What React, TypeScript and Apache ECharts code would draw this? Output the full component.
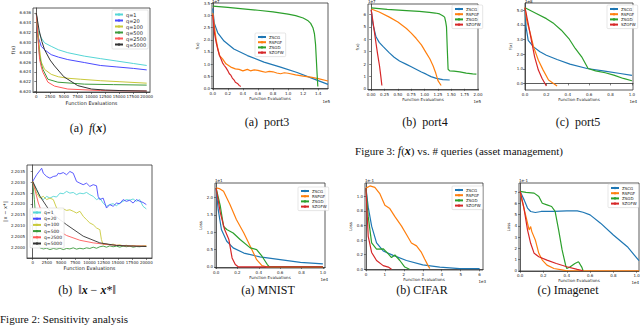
import React, { useEffect, useRef } from "react";
import * as echarts from "echarts";

type P = [number, number][];

// ---------- names & colours ----------
const qNames = ["q=1", "q=20", "q=100", "q=500", "q=2500", "q=5000"];
const qColors = ["#55d6d6", "#4a4aff", "#c9c93a", "#3c9a3c", "#ff5a5a", "#333333"];
const algNames = ["ZSCG", "RSPGF", "ZSGD", "SZOFW"];
const algColors = ["#1f77b4", "#ff7f0e", "#2ca02c", "#d62728"];

// ---------- Fig 2(a) f(x) ----------
const fxXTicks = [0, 2500, 5000, 7500, 10000, 12500, 15000, 17500, 20000];
const fxYTicks = [6.62, 6.622, 6.624, 6.626, 6.628, 6.63, 6.632, 6.634, 6.636];
const fxQ1: P = [[0,6.636],[300,6.6325],[900,6.6309],[1500,6.6299],[2700,6.6292],[4000,6.6285],[5700,6.6279],[8700,6.6272],[11600,6.6267],[14600,6.6262],[17600,6.6257],[20000,6.6253]];
const fxQ20: P = [[0,6.636],[300,6.6312],[900,6.6292],[1500,6.6285],[2700,6.6275],[4000,6.627],[5700,6.6265],[8700,6.6259],[11600,6.6253],[14600,6.625],[17600,6.6247],[20000,6.6244]];
const fxQ100: P = [[0,6.636],[300,6.632],[600,6.6285],[900,6.626],[1500,6.6245],[2700,6.6235],[4000,6.623],[5700,6.6227],[8000,6.6225],[11600,6.6222],[15000,6.622],[20000,6.6217]];
const fxQ500: P = [[0,6.636],[300,6.631],[600,6.6272],[900,6.6256],[1200,6.6245],[2100,6.6225],[3900,6.6219],[8700,6.6215],[14000,6.6214],[20000,6.6213]];
const fxQ2500: P = [[0,6.636],[300,6.631],[600,6.6265],[900,6.625],[1200,6.6239],[2100,6.6219],[3300,6.6211],[5700,6.6205],[11600,6.6202],[20000,6.6201]];
const fxQ5000: P = [[0,6.636],[500,6.6325],[1000,6.6302],[1500,6.6285],[2500,6.6264],[3300,6.6252],[5000,6.623],[7500,6.6212],[10000,6.6205],[12500,6.6203],[15000,6.6202],[20000,6.6201]];

// ---------- Fig 2(b) ||x - x*|| ----------
const dxYTicks = [2.2, 2.2005, 2.201, 2.2015, 2.202, 2.2025, 2.203, 2.2035];
const dxQ1: P = [[0,2.20304],[700,2.20266],[1290,2.20235],[1870,2.2022],[2460,2.20235],[3040,2.20227],[3630,2.20235],[4210,2.20232],[4800,2.2025],[5380,2.20247],[5970,2.20258],[6550,2.2025],[7140,2.20253],[7720,2.20243],[8310,2.2025],[8890,2.20247],[9480,2.20253],[10060,2.20243],[10650,2.20235],[11230,2.2022],[11820,2.20227],[12400,2.20204],[12990,2.20189],[13570,2.20197],[14160,2.20201],[14740,2.20192],[15330,2.20204],[15910,2.20212],[16500,2.2022],[17080,2.20217],[17670,2.20223],[18250,2.20212],[18840,2.2022],[19420,2.20189],[20000,2.20177]];
const dxQ20: P = [[0,2.20304],[700,2.20335],[1580,2.20365],[1870,2.20342],[2460,2.20327],[3040,2.20319],[3630,2.20327],[4210,2.2033],[4500,2.20342],[4800,2.20339],[5380,2.20345],[5970,2.20335],[6550,2.2035],[7140,2.20342],[7720,2.20304],[8310,2.20296],[8890,2.20289],[9480,2.20296],[10060,2.20281],[10650,2.20289],[11230,2.20284],[11520,2.20235],[11820,2.2022],[12400,2.20227],[12700,2.20204],[12990,2.20181],[13570,2.20197],[14160,2.20189],[14740,2.20204],[15330,2.20201],[15910,2.2022],[16500,2.20212],[17080,2.20217],[17670,2.20204],[18250,2.2022],[18840,2.20212],[19420,2.20207],[20000,2.20197]];
const dxQ100: P = [[0,2.20304],[700,2.2025],[1290,2.20227],[1870,2.20235],[2460,2.2022],[3040,2.20227],[3630,2.2022],[4210,2.20181],[4800,2.20173],[5380,2.20177],[5970,2.2017],[6550,2.20173],[7140,2.20166],[7720,2.20158],[8310,2.20166],[8890,2.20143],[9480,2.20127],[10060,2.20112],[10650,2.20104],[11230,2.20089],[11820,2.20081],[12100,2.20035],[12400,2.20012],[12990,2.20015],[13570,2.20011],[14160,2.20014],[14740,2.20008],[15330,2.20011],[15910,2.20006],[16500,2.20009],[17080,2.20005],[17670,2.20008],[18250,2.20005],[18840,2.20006],[19420,2.20005],[20000,2.20008]];
const dxQ500: P = [[0,2.20304],[300,2.2022],[500,2.20143],[700,2.20051],[1000,2.20012],[1290,2.19997],[1870,2.19992],[2460,2.19995],[3040,2.19989],[3630,2.19994],[4210,2.19991],[4800,2.19995],[5380,2.19989],[5970,2.19994],[6550,2.19992],[7140,2.19997],[7720,2.19991],[8310,2.19995],[8890,2.19992],[9480,2.19997],[10060,2.19994],[10650,2.2],[11230,2.19995],[11820,2.20002],[12400,2.20005],[12990,2.2],[13570,2.20006],[14160,2.20002],[14740,2.20005],[15330,2.2],[15910,2.20005],[16500,2.20002],[17080,2.20005],[17670,2.2],[18250,2.20003],[18840,2.20002],[19420,2.20005],[20000,2.20003]];
const dxQ2500: P = [[0,2.20304],[400,2.20265],[1000,2.20204],[1870,2.20143],[2460,2.20122],[3040,2.20104],[4210,2.20081],[5970,2.20054],[8310,2.20032],[10650,2.2002],[13570,2.20011],[16500,2.20006],[20000,2.20005]];
const dxQ5000: P = [[0,2.20304],[700,2.20266],[1290,2.20235],[3040,2.20166],[4800,2.20127],[5970,2.20104],[8890,2.20051],[11820,2.2002],[14740,2.20008],[17670,2.20005],[20000,2.20003]];

// ---------- Fig 3 port3 ----------
const p3XTicks = [0, 0.2, 0.4, 0.6, 0.8, 1.0, 1.2, 1.4];
const p3YTicks = [0, 0.5, 1.0, 1.5, 2.0, 2.5, 3.0, 3.5];
const p3A: P = [[0,3.3],[0.02,2.69],[0.066,2.29],[0.15,1.95],[0.28,1.62],[0.46,1.35],[0.68,1.08],[0.9,0.875],[1.12,0.65],[1.33,0.4],[1.53,0.16]];
const p3B: P = [[0,3.1],[0.02,2.6],[0.044,2.02],[0.07,1.6],[0.09,1.35],[0.13,1.21],[0.175,1.01],[0.24,0.875],[0.3,0.8],[0.35,0.78],[0.4,0.72],[0.46,0.78],[0.5,0.72],[0.55,0.76],[0.6,0.74],[0.65,0.7],[0.7,0.66],[0.75,0.7],[0.8,0.68],[0.85,0.63],[0.9,0.6],[0.95,0.64],[1.0,0.62],[1.1,0.55],[1.2,0.5],[1.3,0.46],[1.4,0.4],[1.53,0.3]];
const p3C: P = [[0,3.39],[0.2,3.34],[0.4,3.28],[0.6,3.22],[0.8,3.15],[1.0,3.06],[1.1,3.0],[1.2,2.9],[1.26,2.8],[1.3,2.68],[1.33,2.5],[1.35,2.25],[1.365,1.8],[1.375,1.2],[1.385,0.6],[1.395,0.07]];
const p3D: P = [[0,3.03],[0.01,2.7],[0.022,2.29],[0.045,1.9],[0.066,1.62],[0.09,1.35],[0.11,1.21],[0.13,1.05],[0.153,0.94],[0.175,0.85],[0.197,0.74],[0.22,0.6],[0.24,0.54],[0.26,0.42],[0.284,0.34],[0.3,0.25],[0.328,0.2],[0.35,0.12],[0.372,0.07]];

// ---------- Fig 3 port4 ----------
const p4XTicks = [0, 0.25, 0.5, 0.75, 1.0, 1.25, 1.5, 1.75, 2.0];
const p4YTicks = [0, 1, 2, 3, 4, 5, 6];
const p4A: P = [[0,6.4],[0.03,5.26],[0.09,4.2],[0.15,3.75],[0.22,3.42],[0.34,2.9],[0.43,2.55],[0.53,2.24],[0.66,1.97],[0.75,1.78],[0.84,1.58],[0.94,1.35],[1.03,1.18],[1.12,0.98],[1.22,0.84],[1.34,0.74],[1.47,0.71]];
const p4B: P = [[0,6.45],[0.15,6.2],[0.34,5.79],[0.5,5.4],[0.66,4.87],[0.75,4.5],[0.84,4.08],[0.94,3.55],[1.03,2.9],[1.1,2.4],[1.16,1.84],[1.21,1.25],[1.25,0.66],[1.31,0.26]];
const p4C: P = [[0,6.53],[0.3,6.42],[0.66,6.32],[0.9,6.25],[1.09,6.18],[1.2,6.12],[1.28,6.05],[1.34,5.9],[1.375,5.79],[1.395,5.4],[1.41,5.0],[1.425,3.2],[1.44,1.58],[1.47,1.45],[1.55,1.42],[1.66,1.37],[1.78,1.26],[1.9,1.2],[1.97,1.18]];
const p4D: P = [[0,6.37],[0.03,5.5],[0.06,4.6],[0.09,3.68],[0.12,2.8],[0.156,1.84],[0.18,1.0],[0.2,0.26]];

// ---------- Fig 3 port5 ----------
const p5XTicks = [0, 0.2, 0.4, 0.6, 0.8, 1.0];
const p5YTicks = [0, 1, 2, 3, 4, 5];
const p5A: P = [[0,5.11],[0.01,3.86],[0.03,2.95],[0.08,2.5],[0.14,2.16],[0.2,1.93],[0.3,1.64],[0.42,1.32],[0.58,1.02],[0.73,0.86],[0.89,0.68],[1.0,0.55]];
const p5B: P = [[0,5.18],[0.016,4.32],[0.05,3.41],[0.08,2.5],[0.125,1.59],[0.17,0.91],[0.22,0.23],[0.3,-0.18]];
const p5C: P = [[0,5.18],[0.11,4.77],[0.2,4.43],[0.27,4.09],[0.34,3.64],[0.41,3.07],[0.47,2.39],[0.53,1.82],[0.59,1.02],[0.66,0.86],[0.75,0.73],[0.83,0.57],[0.92,0.34],[1.0,0.18]];
const p5D: P = [[0,5.18],[0.03,4.09],[0.06,2.95],[0.09,1.82],[0.125,0.91],[0.16,0.34],[0.2,-0.18]];

// ---------- MNIST ----------
const mnXTicks = [0, 0.2, 0.4, 0.6, 0.8, 1.0];
const mnYTicks = [0, 0.5, 1.0, 1.5, 2.0];
const mnA: P = [[0,2.28],[0.02,1.65],[0.05,1.08],[0.1,0.74],[0.16,0.55],[0.26,0.4],[0.41,0.29],[0.6,0.21],[0.79,0.13],[1.0,0.09]];
const mnB: P = [[0,2.28],[0.03,2.26],[0.07,2.18],[0.13,1.8],[0.19,1.37],[0.26,0.98],[0.32,0.6],[0.38,0.21],[0.43,0.04],[0.48,0],[1.0,0]];
const mnC: P = [[0,2.28],[0.04,1.75],[0.07,1.17],[0.1,1.08],[0.16,0.98],[0.225,0.79],[0.32,0.55],[0.38,0.5],[0.43,0.31],[0.48,0.07],[0.5,0],[1.0,0]];
const mnD: P = [[0,2.28],[0.04,1.56],[0.08,1.08],[0.12,0.79],[0.15,0.26],[0.18,0.07],[0.21,0],[1.0,0]];

// ---------- CIFAR ----------
const ciXTicks = [0, 1, 2, 3, 4, 5, 6];
const ciYTicks = [0, 0.2, 0.4, 0.6, 0.8, 1.0];
const ciA: P = [[0,1.11],[0.12,0.85],[0.3,0.59],[0.56,0.36],[0.91,0.25],[1.44,0.19],[2.14,0.12],[3.0,0.06],[3.9,0.03],[4.95,0.01],[6.0,0.01]];
const ciB: P = [[0,1.11],[0.21,1.14],[0.47,1.12],[0.74,1.03],[1.0,0.875],[1.26,0.83],[1.53,0.72],[1.88,0.59],[2.14,0.475],[2.4,0.36],[2.67,0.32],[2.93,0.23],[3.1,0.14],[3.28,0.05],[3.37,0.01]];
const ciC: P = [[0,1.11],[0.12,0.72],[0.3,0.36],[0.56,0.275],[0.91,0.28],[1.18,0.21],[1.35,0.16],[1.53,0.195],[1.79,0.12],[2.05,0.03],[2.3,0]];
const ciD: P = [[0,1.11],[0.12,0.45],[0.3,0.23],[0.56,0.12],[0.91,0.05],[1.18,0.03],[1.35,0]];

// ---------- Imagenet ----------
const imXTicks = [0, 0.2, 0.4, 0.6, 0.8, 1.0];
const imYTicks = [0, 1, 2, 3, 4, 5, 6, 7];
const imA: P = [[0,7.05],[0.034,6.3],[0.063,5.57],[0.09,5.27],[0.13,5.18],[0.18,5.27],[0.29,5.27],[0.4,5.33],[0.49,5.33],[0.54,5.2],[0.6,4.97],[0.69,4.23],[0.8,3.18],[0.92,2.14],[0.98,1.4],[1.02,0.9]];
const imB: P = [[0,7.05],[0.014,6.3],[0.05,4.82],[0.063,4.23],[0.077,3.63],[0.09,3.93],[0.1,3.48],[0.13,2.74],[0.16,1.55],[0.19,0.95],[0.23,0.5],[0.29,0.2],[0.37,0.06],[0.4,0],[1.02,0]];
const imC: P = [[0,7.05],[0.05,6.96],[0.12,6.9],[0.16,6.6],[0.19,6.0],[0.23,5.86],[0.27,5.71],[0.3,5.27],[0.33,3.63],[0.36,1.85],[0.39,0.5],[0.4,0.2],[0.43,0.36],[0.47,0.65],[0.5,0.8],[0.51,0.65],[0.53,0.3],[0.54,0]];
const imD: P = [[0,7.05],[0.03,5.71],[0.063,3.63],[0.09,2.44],[0.12,1.55],[0.16,1.25],[0.23,0.95],[0.31,0.65],[0.4,0.36],[0.49,0.12],[0.54,0]];

const SANS = "DejaVu Sans";
const SERIF = "Liberation Serif";

function xAx(gi: number, min: number, max: number, ticks: number[], dec: number, name: string, nameGap = 7, fs = 4) {
  return {
    type: "value", gridIndex: gi, min, max,
    axisLine: { show: true, lineStyle: { color: "#333", width: 0.8 } },
    axisTick: { show: true, length: 2, lineStyle: { color: "#333", width: 0.6 }, customValues: ticks },
    axisLabel: { fontSize: 4, color: "#222", margin: 2, fontFamily: SANS, customValues: ticks, formatter: (v: number) => v.toFixed(dec) },
    splitLine: { show: false },
    name, nameLocation: "middle", nameGap, nameTextStyle: { fontSize: fs, color: "#222", fontFamily: SANS },
  };
}
function yAx(gi: number, min: number, max: number, ticks: number[], dec: number, name: string, nameGap = 10, fs = 4) {
  return {
    type: "value", gridIndex: gi, min, max,
    axisLine: { show: true, lineStyle: { color: "#333", width: 0.8 } },
    axisTick: { show: true, length: 2, lineStyle: { color: "#333", width: 0.6 }, customValues: ticks },
    axisLabel: { fontSize: 4, color: "#222", margin: 2, fontFamily: SANS, customValues: ticks, formatter: (v: number) => v.toFixed(dec) },
    splitLine: { show: false },
    name, nameLocation: "middle", nameGap, nameTextStyle: { fontSize: fs, color: "#222", fontFamily: SANS },
  };
}
function ln(name: string, data: P, color: string, gi: number, width = 1.1) {
  return {
    type: "line", name, data, xAxisIndex: gi, yAxisIndex: gi,
    symbol: "none", showSymbol: false, silent: true,
    lineStyle: { color, width }, itemStyle: { color },
  };
}
function leg(names: string[], left: number, top: number, fs = 4, gap = 1.2) {
  return {
    data: names, orient: "vertical", left, top,
    itemWidth: 8, itemHeight: 3, itemGap: gap, padding: [2, 2, 2, 2],
    textStyle: { fontSize: fs, color: "#222", fontFamily: SANS, padding: [0, 0, 0, -2] },
    borderColor: "#cccccc", borderWidth: 0.5, borderRadius: 1,
    backgroundColor: "rgba(255,255,255,0.9)", selectedMode: false, z: 10,
  };
}
function txt(x: number, y: number, text: string, fs = 4, align = "left", font = SANS, rich?: any) {
  return {
    type: "text", x, y, silent: true,
    style: { text, fontSize: fs, fontFamily: font, fill: "#111", align, verticalAlign: "middle", rich },
  };
}

const richMath = {
  i: { fontStyle: "italic", fontFamily: SERIF, fontSize: 12 },
  b: { fontStyle: "italic", fontWeight: "bold", fontFamily: SERIF, fontSize: 12 },
};

export default function App() {
  const ref = useRef<HTMLDivElement>(null);
  useEffect(() => {
    if (!ref.current) return;
    const chart = echarts.init(ref.current, null, { renderer: "svg" });
    const grids = [
      { left: 33, top: 8, width: 117, height: 84 },
      { left: 212, top: 3, width: 116, height: 86 },
      { left: 368, top: 4, width: 110, height: 86 },
      { left: 525, top: 3, width: 108, height: 87 },
      { left: 27, top: 165, width: 125, height: 93 },
      { left: 215, top: 183, width: 110, height: 85 },
      { left: 365, top: 183, width: 118, height: 87 },
      { left: 519, top: 183, width: 120, height: 88 },
    ].map((g) => ({ ...g, show: true, borderColor: "#333", borderWidth: 0.8, backgroundColor: "transparent", containLabel: false, outerBoundsMode: "none" }));

    const FE = "Function Evaluations";
    const xAxis = [
      xAx(0, -600, 20600, fxXTicks, 0, FE, 8, 5),
      xAx(1, -0.01, 1.53, p3XTicks, 1, FE, 7),
      xAx(2, -0.06, 2.0, p4XTicks, 2, FE, 7),
      xAx(3, 0, 1.01, p5XTicks, 1, FE, 7),
      xAx(4, -1000, 21000, fxXTicks, 0, FE, 7, 5),
      xAx(5, -0.01, 1.02, mnXTicks, 1, FE, 7),
      xAx(6, -0.05, 6.18, ciXTicks, 0, FE, 7),
      xAx(7, -0.01, 1.02, imXTicks, 1, FE, 7),
    ];
    const yAxis = [
      yAx(0, 6.6199, 6.6370, fxYTicks, 3, "f(x)", 17, 5),
      yAx(1, -0.03, 3.52, p3YTicks, 1, "f(x)", 9),
      yAx(2, -0.1, 6.85, p4YTicks, 0, "f(x)", 6),
      yAx(3, -0.45, 5.5, p5YTicks, 1, "f(x)", 9),
      yAx(4, 2.1995, 2.2038, dxYTicks, 4, "‖x − x*‖", 18, 5),
      yAx(5, -0.03, 2.42, mnYTicks, 1, "Loss", 9),
      yAx(6, -0.01, 1.18, ciYTicks, 1, "Loss", 9),
      yAx(7, -0.02, 7.8, imYTicks, 0, "Loss", 6),
    ];

    const fxSets = [fxQ1, fxQ20, fxQ100, fxQ500, fxQ2500, fxQ5000];
    const dxSets = [dxQ1, dxQ20, dxQ100, dxQ500, dxQ2500, dxQ5000];
    const algSets: [number, P[]][] = [
      [1, [p3A, p3B, p3C, p3D]],
      [2, [p4A, p4B, p4C, p4D]],
      [3, [p5A, p5B, p5C, p5D]],
      [5, [mnA, mnB, mnC, mnD]],
      [6, [ciA, ciB, ciC, ciD]],
      [7, [imA, imB, imC, imD]],
    ];
    const series: any[] = [];
    fxSets.forEach((d, i) => series.push(ln(qNames[i], d, qColors[i], 0, 1)));
    dxSets.forEach((d, i) => series.push(ln(qNames[i], d, qColors[i], 4, 0.9)));
    algSets.forEach(([gi, sets]) => sets.forEach((d, i) => series.push(ln(algNames[i], d, algColors[i], gi, 1.2))));

    const legend = [
      leg(qNames, 112, 10, 5, 1),
      leg(algNames, 255, 33),
      leg(algNames, 452, 5),
      leg(algNames, 607, 5),
      leg(qNames, 30, 208, 4.5, 1.2),
      leg(algNames, 298, 187),
      leg(algNames, 452, 186),
      leg(algNames, 608, 184),
    ];

    const graphic = [
      txt(212, 1, "1e7"), txt(330, 101, "1e5", 4, "right"),
      txt(368, 1, "1e7"), txt(481, 101, "1e5", 4, "right"),
      txt(525, 1, "1e8"), txt(637, 101, "1e4", 4, "right"),
      txt(215, 180, "1e1"), txt(328, 279, "1e4", 4, "right"),
      txt(365, 180, "1e-1"), txt(486, 281, "1e3", 4, "right"),
      txt(519, 180, "1e-1"), txt(639, 282, "1e4", 4, "right"),
      txt(88, 128, "(a)  {i|f}({b|x})", 12, "center", SERIF, richMath),
      txt(267, 122, "(a)  port3", 12, "center", SERIF),
      txt(425, 122, "(b)  port4", 12, "center", SERIF),
      txt(578, 122, "(c)  port5", 12, "center", SERIF),
      txt(459, 151, "Figure 3: {i|f}({b|x}) vs. # queries (asset management)", 11, "center", SERIF, richMath),
      txt(87, 290, "(b)  ‖{b|x} − {b|x}*‖", 12, "center", SERIF, richMath),
      txt(268, 290, "(a) MNIST", 12, "center", SERIF),
      txt(422, 290, "(b) CIFAR", 12, "center", SERIF),
      txt(568, 290, "(c) Imagenet", 12, "center", SERIF),
      txt(0, 319, "Figure 2: Sensitivity analysis", 11, "left", SERIF),
    ];

    chart.setOption({
      animation: false,
      backgroundColor: "#ffffff",
      grid: grids,
      xAxis,
      yAxis,
      series,
      legend,
      graphic,
    });
    return () => chart.dispose();
  }, []);
  return (
    <div
      ref={ref}
      style={{ position: "fixed", left: 0, top: 0, width: 640, height: 327, background: "#fff" }}
    />
  );
}
